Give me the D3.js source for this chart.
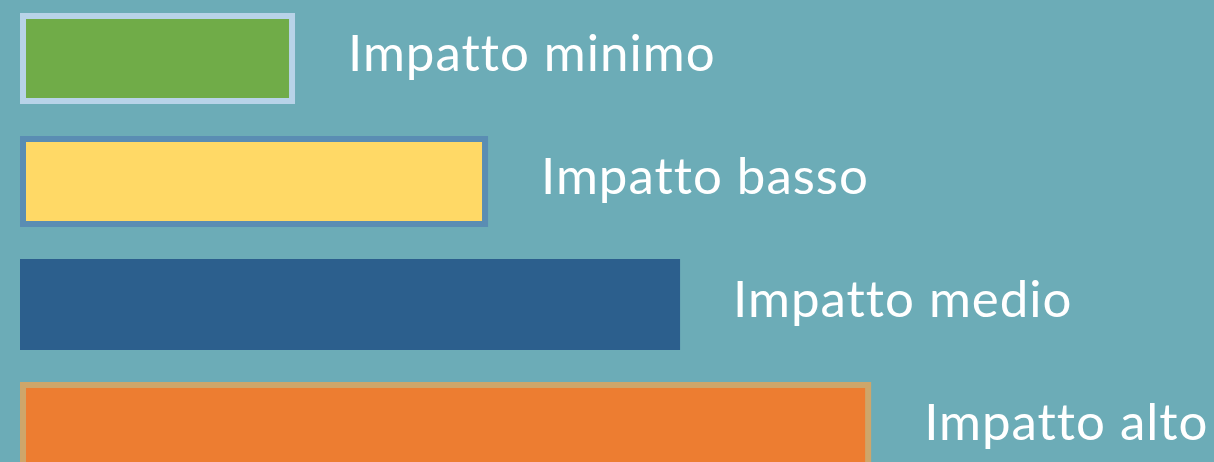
<!DOCTYPE html>
<html>
<head>
<meta charset="utf-8">
<script src="https://cdn.jsdelivr.net/npm/d3@7"></script>
<style>
  html, body { margin: 0; padding: 0; background: #6CACB7; overflow: hidden; }
</style>
</head>
<body>
<div id="chart"></div>
<script>
// impact levels, bar lengths (0-100 scale) and colours
const categories = ["Impatto minimo", "Impatto basso", "Impatto medio", "Impatto alto"]
const values = [28.5, 48.5, 68.4, 88.2]
const fills = ["#70AC48", "#FFD966", "#2C5F8D", "#ED7D31"]
const borders = ["#B8D3E8", "#5A8DB3", null, "#CEA66A"]

const width = 1214
const height = 462
const border = 6

const svg = d3.select("#chart")
    .append("svg")
    .attr("width", width)
    .attr("height", height)

svg.append("rect")
    .attr("width", width)
    .attr("height", height)
    .attr("fill", "#6CACB7")

const x = d3.scaleLinear()
    .domain([0, 100])
    .range([20, 985])

const y = d3.scaleBand()
    .domain(categories)
    .range([13, 473])
    .paddingInner(32 / 123)
    .paddingOuter(0)

const rows = categories.map((c, i) => ({ name: c, value: values[i], fill: fills[i], border: borders[i] }))

const g = svg.selectAll(".bar")
    .data(rows)
    .join("g")
    .attr("class", "bar")

// outer rect = border colour (or fill when there is no border)
g.append("rect")
    .attr("x", x(0))
    .attr("y", d => y(d.name))
    .attr("width", d => x(d.value) - x(0))
    .attr("height", y.bandwidth())
    .attr("fill", d => d.border || d.fill)

// inner fill
g.filter(d => d.border)
    .append("rect")
    .attr("x", x(0) + border)
    .attr("y", d => y(d.name) + border)
    .attr("width", d => x(d.value) - x(0) - 2 * border)
    .attr("height", y.bandwidth() - 2 * border)
    .attr("fill", d => d.fill)

g.append("text")
    .attr("x", d => x(d.value) + 53)
    .attr("y", d => y(d.name) + y.bandwidth() / 2 + 12.5)
    .attr("fill", "#ffffff")
    .style("font-family", "Lato, 'Open Sans', sans-serif")
    .style("font-size", "51px")
    .style("letter-spacing", "1px")
    .style("font-variant-ligatures", "none")
    .text(d => d.name)
</script>
</body>
</html>
